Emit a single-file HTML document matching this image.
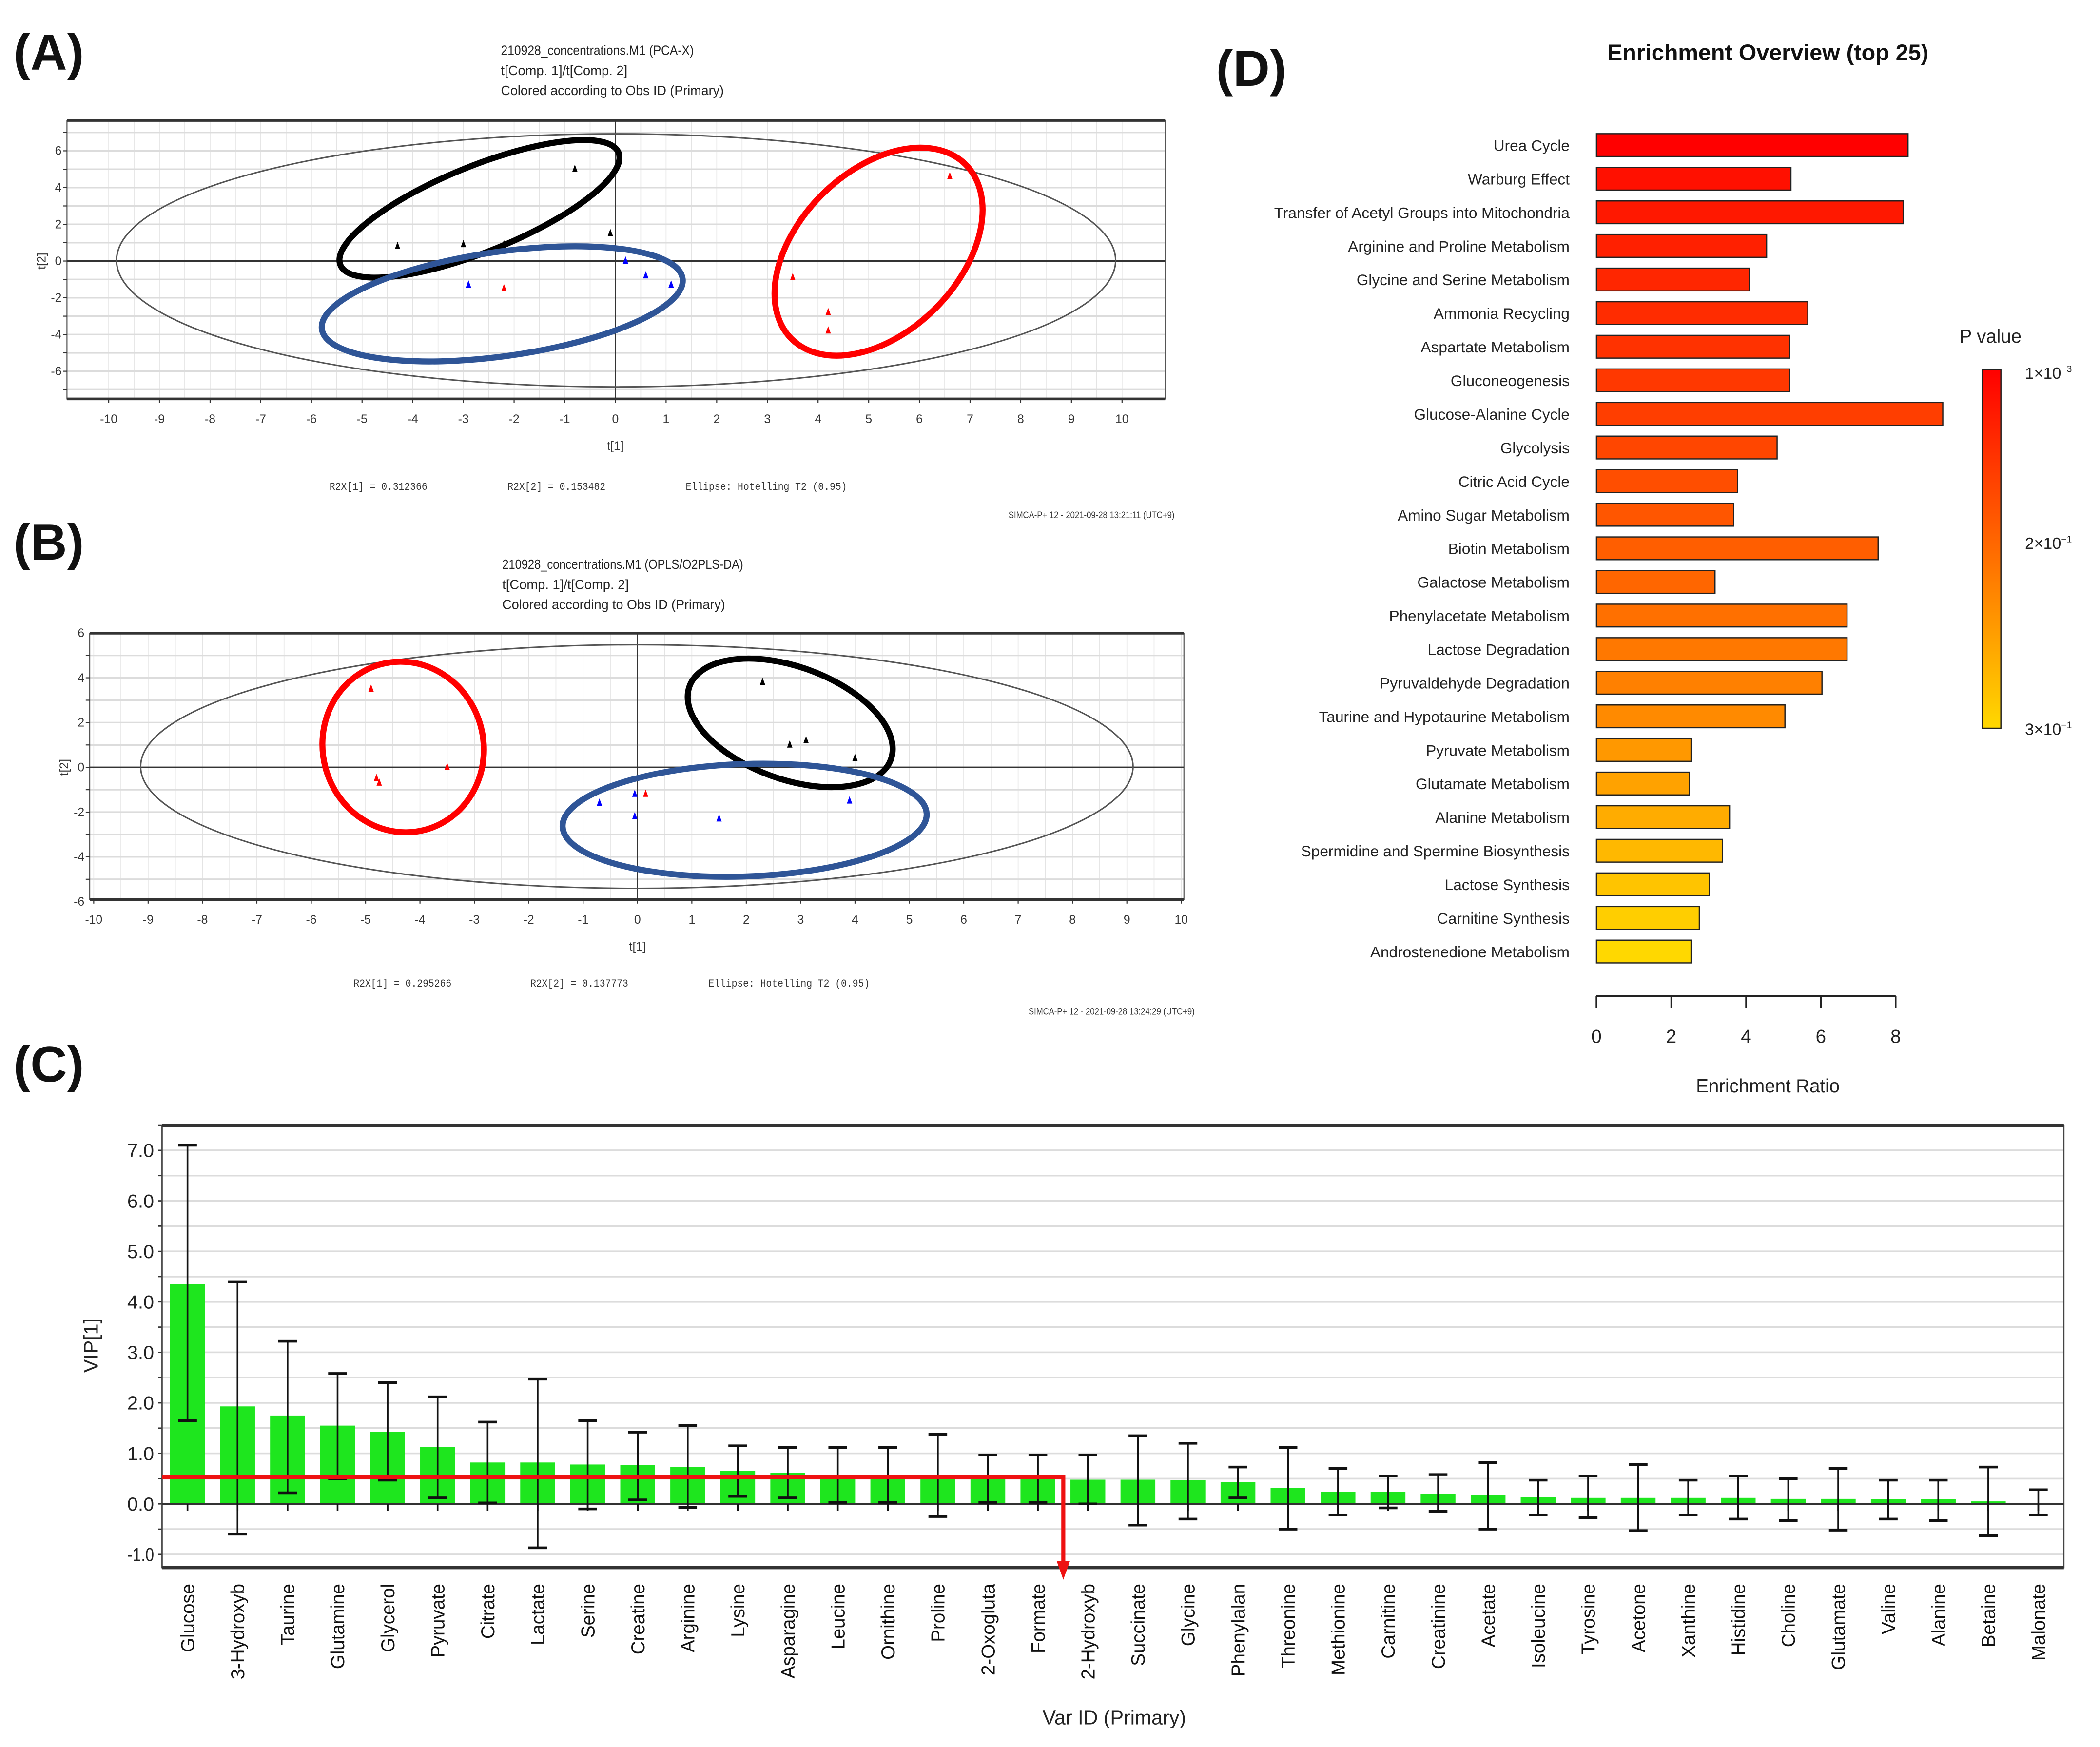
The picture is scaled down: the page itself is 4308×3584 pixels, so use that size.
<!DOCTYPE html>
<html><head><meta charset="utf-8"><style>
html,body{margin:0;padding:0;background:#fff;}
svg{display:block;font-family:"Liberation Sans",sans-serif;}
</style></head><body>
<svg id="fig" xmlns="http://www.w3.org/2000/svg" width="4308" height="3584" viewBox="0 0 1568 1305" preserveAspectRatio="none"></svg>
<script>
// ---------- Panel A data ----------
const aBlackX = [-4.3, -3.0, -2.2, -0.8, -0.1];
const aBlackY = [0.8, 0.9, 0.9, 5.0, 1.5];
const aBlueX = [-2.9, 0.2, 0.6, 1.1];
const aBlueY = [-1.3, 0.0, -0.8, -1.3];
const aRedX = [-2.2, 3.5, 4.2, 4.2, 6.6];
const aRedY = [-1.5, -0.9, -2.8, -3.8, 4.6];
// ---------- Panel B data ----------
const bRedX = [-4.9, -4.8, -4.75, -3.5, 0.15];
const bRedY = [3.5, -0.5, -0.7, 0.0, -1.2];
const bBlackX = [1.1, 2.3, 2.8, 3.1, 4.0];
const bBlackY = [2.0, 3.8, 1.0, 1.2, 0.4];
const bBlueX = [-0.7, -0.05, -0.05, 1.5, 3.9];
const bBlueY = [-1.6, -1.2, -2.2, -2.3, -1.5];
// ---------- Panel C data ----------
const vipNames = ["Glucose","3-Hydroxyb","Taurine","Glutamine","Glycerol","Pyruvate","Citrate","Lactate","Serine","Creatine","Arginine","Lysine","Asparagine","Leucine","Ornithine","Proline","2-Oxogluta","Formate","2-Hydroxyb","Succinate","Glycine","Phenylalan","Threonine","Methionine","Carnitine","Creatinine","Acetate","Isoleucine","Tyrosine","Acetone","Xanthine","Histidine","Choline","Glutamate","Valine","Alanine","Betaine","Malonate"];
const vipValues = [4.35,1.93,1.75,1.55,1.43,1.13,0.82,0.82,0.78,0.77,0.73,0.65,0.62,0.58,0.57,0.56,0.5,0.5,0.48,0.48,0.47,0.43,0.32,0.24,0.24,0.2,0.17,0.13,0.12,0.12,0.12,0.12,0.1,0.1,0.09,0.09,0.05,0.02];
const vipLow = [1.65,-0.6,0.22,0.5,0.47,0.12,0.02,-0.87,-0.1,0.08,-0.07,0.15,0.12,0.03,0.03,-0.25,0.03,0.03,0.0,-0.42,-0.3,0.12,-0.5,-0.22,-0.08,-0.15,-0.5,-0.22,-0.27,-0.53,-0.22,-0.3,-0.33,-0.52,-0.3,-0.33,-0.63,-0.22];
const vipHigh = [7.1,4.4,3.22,2.58,2.4,2.12,1.62,2.47,1.65,1.42,1.55,1.15,1.12,1.12,1.12,1.38,0.97,0.97,0.97,1.35,1.2,0.73,1.12,0.7,0.55,0.58,0.82,0.47,0.55,0.78,0.47,0.55,0.5,0.7,0.47,0.47,0.73,0.28];
const vipTicks = ["-1.0","0.0","1.0","2.0","3.0","4.0","5.0","6.0","7.0"];
const vipThreshold = 0.53;
// ---------- Panel D data ----------
const pathNames = ["Urea Cycle","Warburg Effect","Transfer of Acetyl Groups into Mitochondria","Arginine and Proline Metabolism","Glycine and Serine Metabolism","Ammonia Recycling","Aspartate Metabolism","Gluconeogenesis","Glucose-Alanine Cycle","Glycolysis","Citric Acid Cycle","Amino Sugar Metabolism","Biotin Metabolism","Galactose Metabolism","Phenylacetate Metabolism","Lactose Degradation","Pyruvaldehyde Degradation","Taurine and Hypotaurine Metabolism","Pyruvate Metabolism","Glutamate Metabolism","Alanine Metabolism","Spermidine and Spermine Biosynthesis","Lactose Synthesis","Carnitine Synthesis","Androstenedione Metabolism"];
const enrichRatio = [8.33,5.2,8.2,4.55,4.09,5.65,5.17,5.17,9.26,4.83,3.77,3.67,7.53,3.17,6.7,6.7,6.03,5.04,2.53,2.48,3.56,3.37,3.02,2.75,2.53];
const barColors = ["#ff0000","#ff1000","#ff1800","#ff2000","#ff2600","#ff2c00","#ff3200","#ff3800","#ff3e00","#ff4600","#ff4e00","#ff5600","#ff5e00","#ff6600","#ff7000","#ff7800","#ff8000","#ff8a00","#ff9800","#ffa200","#ffac00","#ffb800","#ffc400","#ffce00","#ffd800"];
const enrichTicks = [0,2,4,6,8];

const NS = "http://www.w3.org/2000/svg";
const svg = document.getElementById('fig');
function mk(tag, attrs, parent) {
  const e = document.createElementNS(NS, tag);
  for (const k in attrs) e.setAttribute(k, attrs[k]);
  (parent || svg).appendChild(e);
  return e;
}
function txt(str, attrs, parent) { const t = mk('text', attrs, parent); t.textContent = str; return t; }

[["(A)",10,52],["(B)",10,418],["(C)",10,808],["(D)",908,64]].forEach(p => {
  const t = txt(p[0], {x:p[1], y:p[2], 'font-size':38, 'font-weight':'bold', fill:'#111'});
  
  
});

function scorePlot(cfg) {
  const g = mk('g', {});
  
  
  const sx = v => cfg.x0 + v * cfg.kx;
  const sy = v => cfg.y0 - v * cfg.ky;
  cfg.titles.forEach((s, i) => {
    const t = txt(s, {x:cfg.tx, y:cfg.ty + i*15, 'font-size':10, fill:'#222', textLength: s.length*4.5, lengthAdjust:'spacingAndGlyphs'}, g);
    
    
  });
  for (let v = -10; v <= 10; v += 0.5) {
    const x = sx(v); if (x < cfg.fx1 || x > cfg.fx2) continue;
    mk('line', {x1:x, x2:x, y1:cfg.fy1, y2:cfg.fy2, stroke:'#e4e4e4', 'stroke-width':0.6}, g);
  }
  for (let v = -8; v <= 8; v += 1) {
    const y = sy(v); if (y < cfg.fy1 || y > cfg.fy2) continue;
    mk('line', {x1:cfg.fx1, x2:cfg.fx2, y1:y, y2:y, stroke:'#dcdcdc', 'stroke-width':1.2}, g);
  }
  mk('rect', {x:cfg.fx1, y:cfg.fy1, width:cfg.fx2-cfg.fx1, height:cfg.fy2-cfg.fy1, fill:'none', stroke:'#555', 'stroke-width':0.8}, g);
  mk('line', {x1:cfg.fx1, x2:cfg.fx2, y1:cfg.fy1, y2:cfg.fy1, stroke:'#333', 'stroke-width':2}, g);
  mk('line', {x1:cfg.fx1, x2:cfg.fx2, y1:cfg.fy2, y2:cfg.fy2, stroke:'#333', 'stroke-width':2}, g);
  mk('line', {x1:cfg.fx1, x2:cfg.fx2, y1:sy(0), y2:sy(0), stroke:'#333', 'stroke-width':1.2}, g);
  mk('line', {x1:sx(0), x2:sx(0), y1:cfg.fy1, y2:cfg.fy2, stroke:'#333', 'stroke-width':0.8}, g);
  for (let v = -10; v <= 10; v++) {
    mk('line', {x1:sx(v), x2:sx(v), y1:cfg.fy2, y2:cfg.fy2+3, stroke:'#333', 'stroke-width':0.8}, g);
    const t = txt(String(v), {x:sx(v), y:cfg.fy2+18, 'font-size':9, 'text-anchor':'middle', fill:'#333'}, g);
    
    
  }
  cfg.yt.forEach(v => {
    const t = txt(String(v), {x:cfg.fx1-4, y:sy(v)+3, 'font-size':9, 'text-anchor':'end', fill:'#333'}, g);
    
    
  });
  for (let v = -7; v <= 7; v++) { const y = sy(v); if (y < cfg.fy1 || y > cfg.fy2) continue;
    mk('line', {x1:cfg.fx1-3, x2:cfg.fx1, y1:y, y2:y, stroke:'#333', 'stroke-width':0.8}, g); }
  const xl = txt('t[1]', {x:sx(0), y:cfg.fy2+38, 'font-size':9, 'text-anchor':'middle', fill:'#333'}, g);
  
  
  const yl = txt('t[2]', {x:0, y:0, 'font-size':9, 'text-anchor':'middle', fill:'#333', transform:`translate(${cfg.fx1-16},${sy(0)}) rotate(-90)`}, g);
  
  
  const he = mk('ellipse', {cx:cfg.he[0], cy:cfg.he[1], rx:cfg.he[2], ry:cfg.he[3], fill:'none', stroke:'#555', 'stroke-width':1.1}, g);
  
  
  cfg.groups.forEach(e => {
    const el = mk('ellipse', {cx:0, cy:0, rx:e.rx, ry:e.ry, fill:'none', stroke:e.c, 'stroke-width':4.5, transform:`translate(${e.cx},${e.cy}) rotate(${e.r})`}, g);
    
    
  });
  cfg.series.forEach(s => {
    s.xs.forEach((v, i) => {
      const px = sx(v), py = sy(s.ys[i]);
      const p = mk('polygon', {points:`${px},${py-3.5} ${px-2},${py+2} ${px+2},${py+2}`, fill:s.c}, g);
      
      
    });
  });
  cfg.foot.forEach(f => {
    const t = txt(f[0], {x:f[1], y:cfg.footY, 'font-size':8, fill:'#333', 'font-family':'Liberation Mono, monospace', textLength:f[0].length*4.3, lengthAdjust:'spacingAndGlyphs'}, g);
    
    
  });
  const sm = txt(cfg.simca, {x:cfg.simX, y:cfg.footY+21, 'font-size':7, 'text-anchor':'end', fill:'#333', textLength:124, lengthAdjust:'spacingAndGlyphs'}, g);
  
  
}

scorePlot({name:'panel-a-pca-score-plot', x0:459.5, kx:37.83, y0:195, ky:13.72, fx1:50, fx2:870, fy1:90, fy2:298,
  tx:374, ty:41, titles:["210928_concentrations.M1 (PCA-X)","t[Comp. 1]/t[Comp. 2]","Colored according to Obs ID (Primary)"],
  yt:[-6,-4,-2,0,2,4,6], he:[460,194.5,373,94.5],
  groups:[{n:'black-group-ellipse',c:'#000',cx:358,cy:156,rx:112,ry:32,r:-22},
          {n:'blue-group-ellipse',c:'#2f5597',cx:375,cy:227,rx:136,ry:39,r:-8},
          {n:'red-group-ellipse',c:'#ff0000',cx:656,cy:188,rx:92,ry:60,r:-45}],
  series:[{n:'black-point',c:'#000',xs:aBlackX,ys:aBlackY},{n:'blue-point',c:'#0000ff',xs:aBlueX,ys:aBlueY},{n:'red-point',c:'#ff0000',xs:aRedX,ys:aRedY}],
  foot:[["R2X[1] = 0.312366",246],["R2X[2] = 0.153482",379],["Ellipse: Hotelling T2 (0.95)",512]], footY:366,
  simca:"SIMCA-P+ 12 - 2021-09-28 13:21:11 (UTC+9)", simX:877});

scorePlot({name:'panel-b-oplsda-score-plot', x0:476, kx:40.6, y0:573.2, ky:16.72, fx1:67, fx2:884, fy1:473, fy2:672,
  tx:375, ty:425, titles:["210928_concentrations.M1 (OPLS/O2PLS-DA)","t[Comp. 1]/t[Comp. 2]","Colored according to Obs ID (Primary)"],
  yt:[-6,-4,-2,0,2,4,6], he:[475.5,572.6,370.5,91],
  groups:[{n:'red-group-ellipse',c:'#ff0000',cx:301,cy:558,rx:60,ry:64,r:-15},
          {n:'black-group-ellipse',c:'#000',cx:590,cy:540,rx:80,ry:42,r:20},
          {n:'blue-group-ellipse',c:'#2f5597',cx:556,cy:612.7,rx:136,ry:42,r:-2}],
  series:[{n:'red-point',c:'#ff0000',xs:bRedX,ys:bRedY},{n:'black-point',c:'#000',xs:bBlackX,ys:bBlackY},{n:'blue-point',c:'#0000ff',xs:bBlueX,ys:bBlueY}],
  foot:[["R2X[1] = 0.295266",264],["R2X[2] = 0.137773",396],["Ellipse: Hotelling T2 (0.95)",529]], footY:737,
  simca:"SIMCA-P+ 12 - 2021-09-28 13:24:29 (UTC+9)", simX:892});

(function(){
  const g = mk('g', {});
  
  
  const fx1 = 121, fx2 = 1541, fy1 = 840.7, fy2 = 1171;
  const yS = v => 1123.4 - v * 37.73;
  const xS = i => 140 + i * 37.35;
  for (let v = -1; v <= 7.5; v += 0.5) {
    mk('line', {x1:fx1, x2:fx2, y1:yS(v), y2:yS(v), stroke:'#dcdcdc', 'stroke-width':1.3}, g);
    mk('line', {x1:fx1-3, x2:fx1, y1:yS(v), y2:yS(v), stroke:'#333', 'stroke-width':1}, g);
  }
  mk('rect', {x:fx1, y:fy1, width:fx2-fx1, height:fy2-fy1, fill:'none', stroke:'#444', 'stroke-width':1}, g);
  mk('line', {x1:fx1, x2:fx2, y1:fy1, y2:fy1, stroke:'#333', 'stroke-width':2.5}, g);
  mk('line', {x1:fx1, x2:fx2, y1:fy2, y2:fy2, stroke:'#333', 'stroke-width':2.5}, g);
  vipTicks.forEach(s => {
    const t = txt(s, {x:fx1-6, y:yS(parseFloat(s))+5, 'font-size':14, 'text-anchor':'end', fill:'#222', textLength:20, lengthAdjust:'spacingAndGlyphs'}, g);
    
    
  });
  vipValues.forEach((v, i) => {
    const x = xS(i);
    const b = mk('rect', {x:x-13, y:Math.min(yS(v), yS(0)), width:26, height:Math.abs(yS(0)-yS(v)), fill:'#1ee61e'}, g);
    
    
  });
  mk('line', {x1:fx1, x2:fx2, y1:yS(0), y2:yS(0), stroke:'#333', 'stroke-width':1.6}, g);
  vipValues.forEach((v, i) => {
    const x = xS(i);
    const eb = mk('g', {stroke:'#111', 'stroke-width':1.3}, g);
    
    
    mk('line', {x1:x, x2:x, y1:yS(vipHigh[i]), y2:yS(vipLow[i])}, eb);
    mk('line', {x1:x-7, x2:x+7, y1:yS(vipHigh[i]), y2:yS(vipHigh[i]), 'stroke-width':2}, eb);
    mk('line', {x1:x-7, x2:x+7, y1:yS(vipLow[i]), y2:yS(vipLow[i]), 'stroke-width':2}, eb);
    mk('line', {x1:x, x2:x, y1:yS(0), y2:yS(0)+5}, eb);
    const t = txt(vipNames[i], {x:0, y:0, 'font-size':14, 'text-anchor':'end', fill:'#111', transform:`translate(${x+5},1183) rotate(-90)`}, g);
    
    
  });
  const thrX = xS(17) + 19;
  const th = mk('polyline', {points:`${fx1},${yS(vipThreshold)} ${thrX},${yS(vipThreshold)} ${thrX},1170`, fill:'none', stroke:'#ee1111', 'stroke-width':3}, g);
  
  
  const ar = mk('polygon', {points:`${thrX-5},1166 ${thrX+5},1166 ${thrX},1180`, fill:'#ee1111'}, g);
  
  
  const xt = txt('Var ID (Primary)', {x:832, y:1288, 'font-size':15, 'text-anchor':'middle', fill:'#222'}, g);
  
  
  const yt = txt('VIP[1]', {x:0, y:0, 'font-size':15, 'text-anchor':'middle', fill:'#222', transform:'translate(73,1005) rotate(-90)'}, g);
  
  
})();

(function(){
  const g = mk('g', {});
  
  
  const xS = v => 1192 + v * 27.93;
  const yC = i => 108.4 + i * 25.1;
  const tt = txt('Enrichment Overview (top 25)', {x:1320, y:45, 'font-size':17, 'font-weight':'bold', 'text-anchor':'middle', fill:'#111'}, g);
  
  
  enrichRatio.forEach((v, i) => {
    const b = mk('rect', {x:xS(0), y:yC(i)-8.5, width:xS(v)-xS(0), height:17, fill:barColors[i], stroke:'#222', 'stroke-width':0.9}, g);
    
    
    const t = txt(pathNames[i], {x:1172, y:yC(i)+4.3, 'font-size':11.5, 'text-anchor':'end', fill:'#222'}, g);
    
    
  });
  mk('line', {x1:xS(0), x2:xS(8), y1:744, y2:744, stroke:'#222', 'stroke-width':1.2}, g);
  enrichTicks.forEach(v => {
    mk('line', {x1:xS(v), x2:xS(v), y1:744, y2:753, stroke:'#222', 'stroke-width':1.2}, g);
    const t = txt(String(v), {x:xS(v), y:779, 'font-size':14, 'text-anchor':'middle', fill:'#222'}, g);
    
    
  });
  const xt = txt('Enrichment Ratio', {x:1320, y:816, 'font-size':14, 'text-anchor':'middle', fill:'#222'}, g);
  
  
  const defs = mk('defs', {}, g);
  const lg = mk('linearGradient', {id:'pgrad', x1:0, y1:0, x2:0, y2:1}, defs);
  [["0","#ff0000"],["0.5","#ff6a00"],["1","#ffd800"]].forEach(s => mk('stop', {offset:s[0], 'stop-color':s[1]}, lg));
  const lt = txt('P value', {x:1463, y:256, 'font-size':14, fill:'#222'}, g);
  
  
  const cb = mk('rect', {x:1480, y:276, width:14, height:268, fill:'url(#pgrad)', stroke:'#222', 'stroke-width':0.9}, g);
  
  
  [["1×10","−3",283],["2×10","−1",410],["3×10","−1",549]].forEach(l => {
    const t = txt(l[0], {x:1512, y:l[2], 'font-size':12, fill:'#222'}, g);
    const s = mk('tspan', {dy:-5, 'font-size':7}, t); s.textContent = l[1];
    
    
  });
})();
</script>
</body></html>
